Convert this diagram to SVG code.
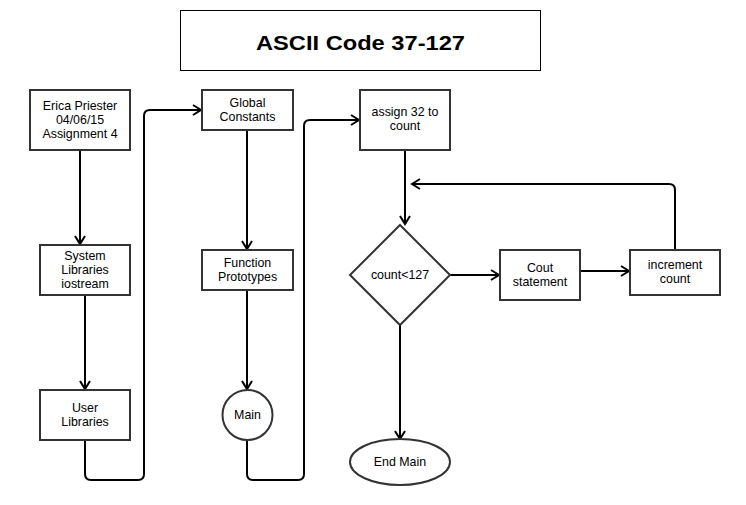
<svg xmlns="http://www.w3.org/2000/svg" width="746" height="505" viewBox="0 0 746 505">
<defs>
<marker id="arr" markerUnits="userSpaceOnUse" markerWidth="12" markerHeight="14" refX="9" refY="6" orient="auto" overflow="visible">
<path d="M1,1 L9,6 L1,11" fill="none" stroke="#000" stroke-width="2"/>
</marker>
<style>
.box{fill:#fff;stroke:#333;stroke-width:2}
.t{font-family:"Liberation Sans",Arial,sans-serif;font-size:12.4px;fill:#000;text-anchor:middle}
.c{fill:none;stroke:#000;stroke-width:2;marker-end:url(#arr)}
</style>
</defs>
<rect width="746" height="505" fill="#fff"/>
<g id="title">
<rect x="180.5" y="10.5" width="360" height="60" fill="#fff" stroke="#000" stroke-width="1"/>
<text x="360.5" y="50" font-family="'Liberation Sans',Arial,sans-serif" font-size="21" font-weight="bold" text-anchor="middle" textLength="209" lengthAdjust="spacingAndGlyphs">ASCII Code 37-127</text>
</g>
<g id="connectors">
<path class="c" d="M80,150 V244"/>
<path class="c" d="M85,295 V389"/>
<path class="c" d="M85,440 V474 Q85,480 91,480 H138 Q144,480 144,474 V116 Q144,110 150,110 H201"/>
<path class="c" d="M247,130 V249"/>
<path class="c" d="M247,290 V389"/>
<path class="c" d="M247,440 V474 Q247,480 253,480 H298 Q304,480 304,474 V126 Q304,120 310,120 H359"/>
<path class="c" d="M405,150 V224"/>
<path class="c" d="M450,275 H499"/>
<path class="c" d="M580,271 H629"/>
<path class="c" d="M675,250 V190 Q675,184 669,184 H412"/>
<path class="c" d="M400,325 V439"/>
</g>
<g id="erica">
<rect class="box" x="30" y="90" width="100" height="60"/>
<text class="t" x="80" y="110">Erica Priester</text>
<text class="t" x="80" y="124">04/06/15</text>
<text class="t" x="80" y="138">Assignment 4</text>
</g>
<g id="system">
<rect class="box" x="40" y="245" width="90" height="50"/>
<text class="t" x="85" y="260">System</text>
<text class="t" x="85" y="274">Libraries</text>
<text class="t" x="85" y="288">iostream</text>
</g>
<g id="user">
<rect class="box" x="40" y="390" width="90" height="50"/>
<text class="t" x="85" y="412">User</text>
<text class="t" x="85" y="426">Libraries</text>
</g>
<g id="global">
<rect class="box" x="202" y="90" width="91" height="40"/>
<text class="t" x="247.5" y="107">Global</text>
<text class="t" x="247.5" y="121">Constants</text>
</g>
<g id="function">
<rect class="box" x="202" y="250" width="91" height="40"/>
<text class="t" x="247.5" y="267">Function</text>
<text class="t" x="247.5" y="281">Prototypes</text>
</g>
<g id="main">
<circle class="box" cx="247.5" cy="415" r="25"/>
<text class="t" x="247.5" y="419">Main</text>
</g>
<g id="assign">
<rect class="box" x="360" y="90" width="90" height="60"/>
<text class="t" x="405" y="116">assign 32 to</text>
<text class="t" x="405" y="130">count</text>
</g>
<g id="decision">
<polygon class="box" points="400,225 450,275 400,325 350,275"/>
<text class="t" x="400" y="279">count&lt;127</text>
</g>
<g id="cout">
<rect class="box" x="500" y="250" width="80" height="50"/>
<text class="t" x="540" y="272">Cout</text>
<text class="t" x="540" y="286">statement</text>
</g>
<g id="increment">
<rect class="box" x="630" y="250" width="90" height="45"/>
<text class="t" x="675" y="269">increment</text>
<text class="t" x="675" y="283">count</text>
</g>
<g id="endmain">
<ellipse class="box" cx="400" cy="462" rx="50" ry="23"/>
<text class="t" x="400" y="466">End Main</text>
</g>
</svg>
